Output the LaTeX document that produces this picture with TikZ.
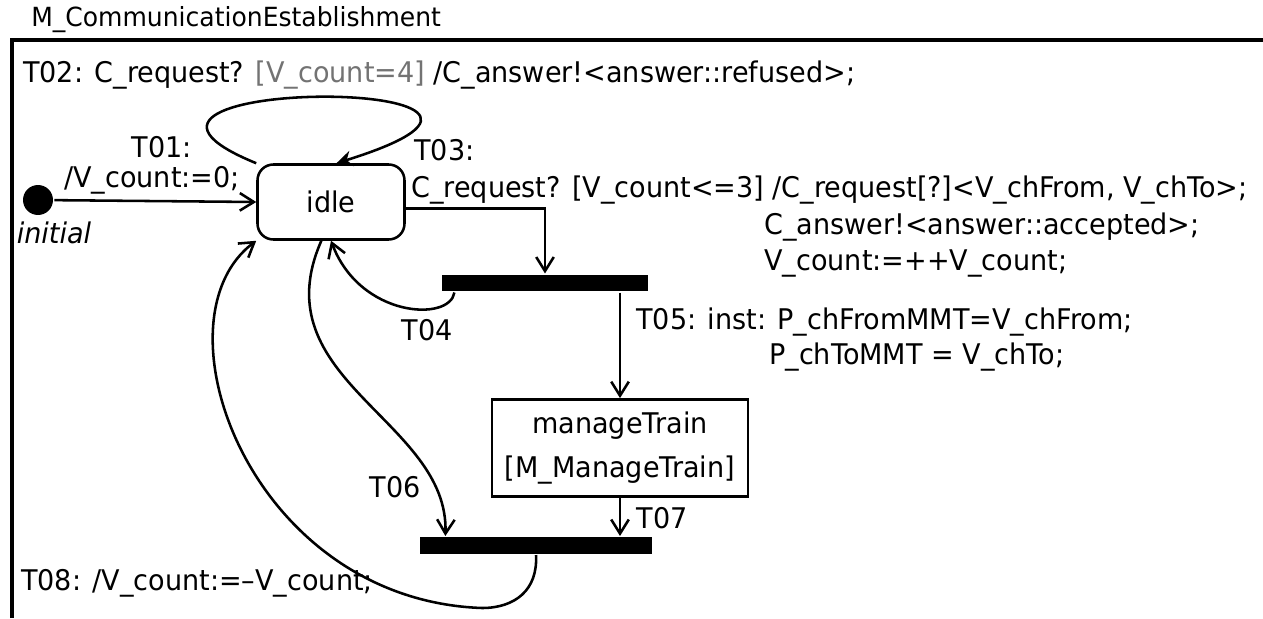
\documentclass[tikz,border=0pt]{standalone}
\usepackage{fontspec}
\setmainfont[FakeStretch=0.95]{DejaVu Sans}
\usetikzlibrary{arrows.meta,positioning}

\begin{document}
\begin{tikzpicture}[x=0.02cm,y=-0.02cm,line width=1.45pt,
  font=\fontsize{16.2pt}{19pt}\selectfont,
  >={Straight Barb[length=8pt,width=10pt]},
  state/.style={draw,rounded corners=9pt,minimum width=2.94cm,minimum height=1.5cm,inner sep=0pt},
  submachine/.style={draw,line width=1.6pt,minimum width=5.12cm,minimum height=1.94cm,align=center,inner sep=0pt},
  forkbar/.style={fill=black,minimum height=0.33cm,inner sep=0pt},
  lbl/.style={anchor=west,inner sep=0pt}]
\useasboundingbox (0,0) rectangle (1263,618);
% frame
\draw[line width=1.8pt] (12,618) -- (12,40) -- (1263,40);
\node[lbl,font=\fontsize{15pt}{18pt}\selectfont] (title) at (30,20) {M\_CommunicationEstablishment};
% states and bars
\node[circle,fill=black,minimum size=0.6cm,inner sep=0pt] (init) at (38,200) {};
\node (initlbl) at (54,233) {\itshape initial};
\node[state] (idle) at (331,202) {idle};
\node[forkbar,minimum width=4.12cm] (fork) at (545,283) {};
\node[submachine] (mt) at (620,448) {manageTrain\\[6pt]{[M\_ManageTrain]}};
\node[forkbar,minimum width=4.64cm] (join) at (536,545.5) {};
% labels
\node[lbl] (t02) at (22,75) {T02: C\_request? \textcolor{black!55}{[V\_count=4]} /C\_answer!<answer::refused>;};
\node (t01a) at (162,147) {T01:};
\node (t01b) at (152,180) {/V\_count:=0;};
\node[lbl] (t03a) at (413,150) {T03:};
\node[lbl] (t03b) at (410,190) {C\_request? [V\_count<=3] /C\_request[?]<V\_chFrom, V\_chTo>;};
\node[lbl] (t03c) at (763,227) {C\_answer!<answer::accepted>;};
\node[lbl] (t03d) at (763,263) {V\_count:=++V\_count;};
\node (t04) at (427,330) {T04};
\node[lbl] (t05a) at (635,322) {T05: inst: P\_chFromMMT=V\_chFrom;};
\node[lbl] (t05b) at (768,357) {P\_chToMMT = V\_chTo;};
\node (t06) at (395,487) {T06};
\node (t07) at (662,518) {T07};
\node[lbl] (t08) at (20,583) {T08: /V\_count:=–V\_count;};
% transitions
\draw[->] (init) -- (idle.west);
\draw[-{Stealth[length=9pt,width=9pt]}] (idle.north west) .. controls (40,75) and (620,75) .. (idle.82);
\draw[->] (idle.-5) -| (fork.north);
\draw[->] (fork.186) .. controls (450,322) and (360,318) .. (idle.south);
\draw[->] (fork.south -| mt.north) -- (mt.north);
\draw[->] (idle.256) .. controls (260,380) and (449,420) .. (join.174);
\draw[->] (mt.south) -- (join.north -| mt.south);
\draw[->] (join.south) .. controls (538,590) and (515,608) .. (482,608)
  .. controls (250,600) and (150,320) .. (idle.south west);
\end{tikzpicture}
\end{document}
